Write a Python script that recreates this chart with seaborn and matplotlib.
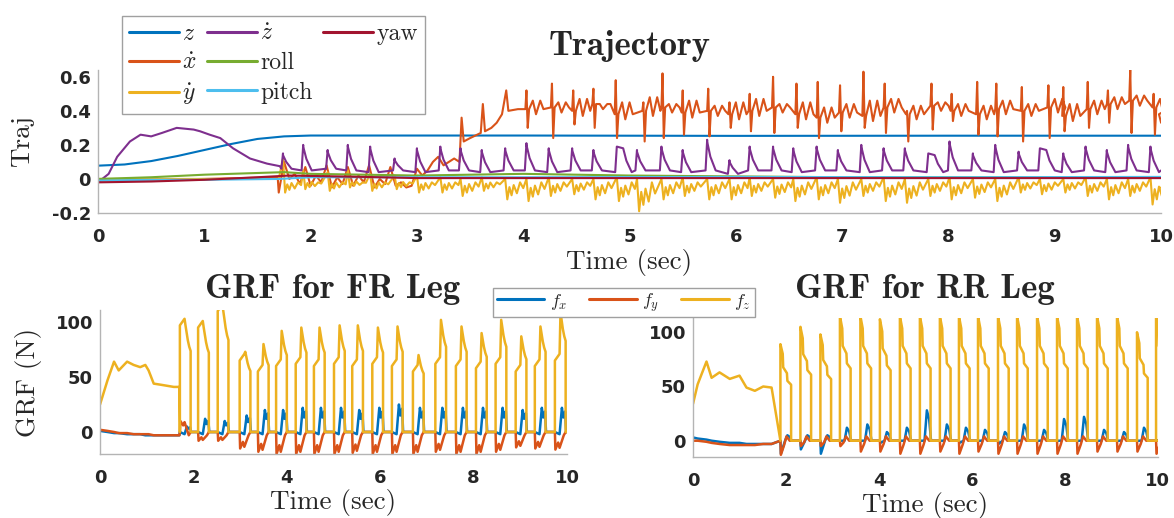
import numpy as np
import pandas as pd
import matplotlib
matplotlib.use("Agg")
import matplotlib.pyplot as plt
import seaborn as sns
from matplotlib.lines import Line2D

sns.set_style("white")
plt.rcParams["mathtext.fontset"] = "cm"
plt.rcParams["axes.unicode_minus"] = False

# ---------------- colours (MATLAB default order) ----------------
C_BLUE, C_ORANGE, C_YELLOW, C_PURPLE = "#0072BD", "#D95319", "#EDB120", "#7E2F8E"
C_GREEN, C_LBLUE, C_RED = "#77AC30", "#4DBEEE", "#A2142F"

# ---------------- Trajectory data ----------------
z_t = [0, 0.25, 0.5, 0.75, 1.0, 1.25, 1.5, 1.75, 2.0, 4.0, 6.0, 8.0, 10.0]
z_v = [0.078, 0.085, 0.105, 0.135, 0.17, 0.205, 0.235, 0.25, 0.255, 0.255, 0.253, 0.254, 0.254]

# xdot: quiet start, noisy phase (samples every 0.05 s from 1.70 s), ramp, then gait cycles
xd_pre_t = [0, 1.0, 1.69]
xd_pre_v = [-0.01, 0.0, 0.01]
xd_noise_v = [-0.08, 0.10, 0.0, 0.03, -0.03, 0.07, -0.04, 0.02, -0.02, 0.08, -0.05, 0.01,
              -0.03, 0.07, -0.04, 0.02, -0.02, 0.08, -0.05, 0.0, -0.03, 0.07, -0.04, -0.02,
              -0.05, -0.04, 0.06, 0.02, 0.05, 0.10, 0.13, 0.08, 0.10, 0.12, 0.10]
xd_ramp_t = [3.42, 3.44, 3.50, 3.60, 3.62, 3.64, 3.70, 3.75, 3.80, 3.84, 3.86, 3.95]
xd_ramp_v = [0.36, 0.22, 0.24, 0.27, 0.44, 0.28, 0.30, 0.33, 0.38, 0.52, 0.40, 0.41]
xd_cyc_t = [4.03, 4.27, 4.47, 4.66, 4.87, 5.13, 5.31, 5.50, 5.74, 5.94, 6.13, 6.35, 6.57, 6.77, 6.98,
            7.20, 7.40, 7.61, 7.84, 8.03, 8.27, 8.45, 8.69, 8.94, 9.08, 9.31, 9.50, 9.71, 9.93]
xd_up = [0.52, 0.56, 0.52, 0.53, 0.58, 0.45, 0.62, 0.52, 0.53, 0.45, 0.50, 0.60, 0.56, 0.57, 0.55,
         0.63, 0.56, 0.40, 0.56, 0.50, 0.57, 0.56, 0.54, 0.55, 0.54, 0.57, 0.52, 0.64, 0.50]
xd_dn = [0.30, 0.24, 0.32, 0.30, 0.24, 0.22, 0.24, 0.26, 0.25, 0.30, 0.28, 0.27, 0.30, 0.24, 0.28,
         0.30, 0.27, 0.22, 0.29, 0.34, 0.26, 0.25, 0.22, 0.24, 0.28, 0.30, 0.33, 0.27, 0.26]
xd_base = [0.41, 0.42, 0.40, 0.44, 0.38, 0.40, 0.42, 0.39, 0.40, 0.38, 0.40, 0.42, 0.38, 0.36, 0.39,
           0.37, 0.42, 0.38, 0.43, 0.40, 0.38, 0.41, 0.40, 0.42, 0.37, 0.41, 0.44, 0.46, 0.42]
xd_mid = [0.46, 0.45, 0.47, 0.44, 0.45, 0.48, 0.44, 0.46, 0.43, 0.45, 0.47, 0.44, 0.45, 0.42, 0.44,
          0.46, 0.47, 0.43, 0.45, 0.44, 0.43, 0.46, 0.44, 0.47, 0.44, 0.46, 0.48, 0.49, 0.47]

# zdot: smooth hump then gait spikes
zd_pre_t = [0, 0.1, 0.18, 0.3, 0.4, 0.5, 0.6, 0.74, 0.9, 0.96, 1.05, 1.15, 1.27, 1.43, 1.59, 1.71]
zd_pre_v = [-0.02, 0.03, 0.13, 0.22, 0.26, 0.25, 0.27, 0.30, 0.29, 0.28, 0.26, 0.24, 0.18, 0.12, 0.09, 0.075]
zd_t = [1.74, 1.93, 2.16, 2.35, 2.56, 2.79, 3.00, 3.22, 3.41, 3.61, 3.83, 4.03, 4.24, 4.46, 4.66,
        4.88, 5.07, 5.30, 5.50, 5.73, 5.94, 6.13, 6.35, 6.54, 6.76, 6.96, 7.18, 7.39, 7.59, 7.81,
        8.01, 8.23, 8.44, 8.66, 8.86, 9.08, 9.29, 9.49, 9.69, 9.90]
zd_pk = [0.15, 0.20, 0.17, 0.20, 0.19, 0.12, 0.18, 0.19, 0.18, 0.17, 0.18, 0.21, 0.18, 0.18, 0.17,
         0.19, 0.17, 0.19, 0.17, 0.23, 0.11, 0.19, 0.19, 0.18, 0.19, 0.17, 0.20, 0.18, 0.18, 0.15,
         0.22, 0.15, 0.20, 0.16, 0.18, 0.15, 0.19, 0.17, 0.20, 0.19]
zd_base = [0.06, 0.05, 0.06, 0.05, 0.04, 0.05, 0.04, 0.05, 0.05, 0.04, 0.05, 0.05, 0.04, 0.05, 0.05,
           0.04, 0.05, 0.05, 0.04, 0.05, 0.03, 0.05, 0.05, 0.04, 0.05, 0.05, 0.04, 0.05, 0.05, 0.04,
           0.05, 0.05, 0.04, 0.05, 0.05, 0.04, 0.05, 0.04, 0.05, 0.04]
zd_hold = [0, 0, 0, 0, 0, 0, 0, 0, 0, 0, 0, 0, 0, 0, 0, 0.06, 0, 0, 0, 0, 0, 0, 0, 0, 0, 0, 0, 0,
           0, 0.06, 0, 0, 0, 0, 0.06, 0, 0, 0, 0, 0]

# ydot: dips per gait cycle (same cycle times as zdot)
yd_hi = [0.12, 0.05, 0.04, 0.05, 0.03, 0.02, 0.02, 0.01, 0.0, 0.01, 0.0, 0.0, 0.01, 0.0, 0.0,
         0.01, 0.0, 0.0, 0.01, 0.0, 0.0, 0.01, 0.0, 0.0, 0.01, 0.0, 0.0, 0.01, 0.0, 0.0,
         0.01, 0.0, 0.0, 0.01, 0.0, 0.0, 0.01, 0.0, 0.0, 0.01]
yd_lo = [-0.08, -0.06, -0.07, -0.05, -0.07, -0.06, -0.08, -0.08, -0.10, -0.07, -0.12, -0.13, -0.10,
         -0.09, -0.12, -0.13, -0.19, -0.12, -0.10, -0.12, -0.12, -0.10, -0.11, -0.13, -0.12, -0.14,
         -0.10, -0.13, -0.14, -0.10, -0.12, -0.11, -0.13, -0.08, -0.09, -0.08, -0.10, -0.12, -0.10, -0.15]

roll_t = [0, 0.5, 1.0, 1.5, 1.75, 2.0, 3.0, 4.0, 5.0, 6.0, 7.0, 8.0, 9.0, 10.0]
roll_v = [0.0, 0.01, 0.025, 0.035, 0.04, 0.03, 0.02, 0.03, 0.02, 0.015, 0.01, 0.01, 0.01, 0.01]
pitch_t = [0, 0.5, 1.0, 1.7, 2.0, 4.0, 6.0, 8.0, 10.0]
pitch_v = [-0.01, -0.005, -0.005, 0.0, 0.01, 0.01, 0.012, 0.01, 0.012]
yaw_t = [0, 0.5, 1.0, 1.5, 1.8, 2.5, 3.0, 4.0, 6.0, 8.0, 10.0]
yaw_v = [-0.02, -0.015, -0.005, 0.01, 0.02, 0.012, 0.005, 0.005, 0.005, 0.005, 0.005]

# ---------------- GRF data ----------------
fr_pre_t = [0, 0.16, 0.30, 0.40, 0.58, 0.72, 0.86, 0.97, 1.04, 1.15, 1.30, 1.58, 1.70]
fr_pre_fz = [25, 47, 64, 56, 64, 61, 59, 61, 56, 44, 43, 41, 41]
fr_pre_fx = [1, 0, -1, -1, -2, -2, -2, -3, -3, -3, -3, -3, -3]
fr_pre_fy = [2, 1, 0, -1, -1, -2, -2, -2, -2, -3, -3, -3, -3]
fr_on = [1.71, 2.10, 2.52, 2.99, 3.38, 3.77, 4.19, 4.58, 5.01, 5.40, 5.83, 6.25, 6.70, 7.18,
         7.62, 8.05, 8.47, 8.90, 9.31, 9.74]
fr_pk = [97, 95, 110, 73, 80, 92, 95, 95, 97, 97, 95, 96, 70, 102, 96, 90, 102, 87, 96, 109]
fr_lv = [97, 95, 110, 65, 55, 60, 62, 60, 62, 60, 62, 60, 55, 62, 60, 58, 62, 55, 60, 65]
fr_fx = [5, 12, 10, 15, 20, 20, 22, 22, 22, 20, 22, 25, 22, 22, 22, 22, 22, 20, 22, 22]
fr_fy = [10, -8, -8, -15, -18, -20, -20, -20, -20, -19, -20, -20, -20, -18, -20, -20, -18, -14, -15, -16]

rr_pre_t = [0, 0.1, 0.29, 0.40, 0.57, 0.79, 1.00, 1.15, 1.33, 1.51, 1.69]
rr_pre_fz = [34, 52, 73, 58, 63, 57, 60, 49, 46, 50, 49]
rr_pre_fx = [3, 2, 1, 0, -1, -2, -2, -3, -3, -3, -3]
rr_pre_fy = [0, 0, -1, -2, -3, -4, -4, -4, -4, -3, -3]
rr_on = [1.88, 2.31, 2.74, 3.16, 3.60, 4.02, 4.45, 4.88, 5.31, 5.72, 6.13, 6.56, 6.97, 7.40,
         7.83, 8.26, 8.69, 9.12, 9.55, 9.96]
rr_pk = [89, 105, 98, 115, 115, 112, 115, 115, 115, 115, 115, 115, 115, 115, 115, 115, 115, 115, 100, 115]
rr_fx_lo = [-12, -8, -12, 0, 0, -2, 0, 0, 0, -2, 0, -3, 0, 0, 0, 0, 0, 0, 0, 0]
rr_fx_hi = [5, 5, 5, 12, 15, 8, 12, 28, 15, 12, 10, 8, 15, 10, 20, 22, 10, 8, 12, 12]
rr_fy_lo = [-13, -5, -5, -5, -10, -10, -12, -12, -10, -12, -10, -12, -12, -12, -12, -12, -10, -10, -10, -12]


# ---------------- assemble polylines from the read values ----------------
def series(name, ts, vs):
    return pd.DataFrame({"t": ts, "v": vs, "s": name})


def build_xd():
    ts = list(xd_pre_t) + [1.70 + 0.05 * k for k in range(len(xd_noise_v))] + list(xd_ramp_t)
    vs = list(xd_pre_v) + list(xd_noise_v) + list(xd_ramp_v)
    for t0, u, d, b, m in zip(xd_cyc_t, xd_up, xd_dn, xd_base, xd_mid):
        ts += [t0 - 0.01, t0, t0 + 0.012, t0 + 0.025, t0 + 0.06, t0 + 0.09, t0 + 0.13, t0 + 0.16]
        vs += [b, u, d, b, m, b - 0.03, m, b]
    ts += [9.98, 10.0]
    vs += [0.38, 0.33]
    return ts, vs


def build_zd():
    ts, vs = list(zd_pre_t), list(zd_pre_v)
    for t0, p, b, h in zip(zd_t, zd_pk, zd_base, zd_hold):
        ts += [t0 - 0.015, t0, t0 + h, t0 + h + 0.03, t0 + h + 0.08]
        vs += [b, p, p - 0.01, b + 0.45 * (p - b), b]
    ts += [10.0]
    vs += [0.05]
    return ts, vs


def build_yd():
    ts, vs = [0, 1.0, 1.70], [0.0, 0.0, 0.0]
    for t0, hi, lo in zip(zd_t, yd_hi, yd_lo):
        ts += [t0, t0 + 0.02, t0 + 0.04, t0 + 0.06, t0 + 0.08, t0 + 0.11, t0 + 0.14, t0 + 0.17]
        vs += [hi, lo, lo * 0.4, lo * 0.8, lo * 0.3, lo * 0.7, -0.02, lo * 0.45]
    ts += [10.0]
    vs += [-0.05]
    return ts, vs


def build_grf(pre_t, pre_v, on, kind, a=None, b=None):
    ts, vs = list(pre_t), list(pre_v)
    for i, t0 in enumerate(on):
        if kind == "fr_fz":
            pk, lv = a[i], b[i]
            ts += [t0, t0, t0 + 0.10, t0 + 0.12, t0 + 0.17, t0 + 0.20, t0 + 0.23, t0 + 0.23, t0 + 0.26]
            vs += [0, lv, lv + 6, pk, 0.86 * pk, 0.8 * pk, 0.76 * pk, 0, 0]
        elif kind == "rr_fz":
            pk = a[i]
            ts += [t0, t0, t0 + 0.05, t0 + 0.06, t0 + 0.14, t0 + 0.15, t0 + 0.23, t0 + 0.23, t0 + 0.26]
            vs += [0, pk, 0.9 * pk, 0.76 * pk, 0.7 * pk, 0.62 * pk, 0.58 * pk, 0, 0]
        elif kind == "fr_fx":
            hi = a[i]
            ts += [t0, t0 + 0.10, t0 + 0.15, t0 + 0.18, t0 + 0.22, t0 + 0.24]
            vs += [0, -2, hi, hi * 0.6, hi * 0.85, 0]
        elif kind == "fr_fy":
            lo = a[i]
            ts += [t0, t0 + 0.01, t0 + 0.07, t0 + 0.10, t0 + 0.19, t0 + 0.23, t0 + 0.25]
            vs += [0, lo, lo * 0.6, lo * 0.9, -3, 0, 0]
        elif kind == "rr_fx":
            lo, hi = a[i], b[i]
            ts += [t0, t0 + 0.01, t0 + 0.10, t0 + 0.15, t0 + 0.20, t0 + 0.24]
            vs += [0, lo, 0, hi, hi * 0.7, 0]
        elif kind == "rr_fy":
            lo = a[i]
            ts += [t0, t0 + 0.01, t0 + 0.08, t0 + 0.13, t0 + 0.20, t0 + 0.24]
            vs += [0, lo, lo * 0.3, 4, 0, 0]
    ts += [10.0]
    vs += [0]
    return ts, vs


xd_tt, xd_vv = build_xd()
zd_tt, zd_vv = build_zd()
yd_tt, yd_vv = build_yd()

traj = [
    ("$z$", z_t, z_v, C_BLUE),
    (r"$\dot{x}$", xd_tt, xd_vv, C_ORANGE),
    (r"$\dot{y}$", yd_tt, yd_vv, C_YELLOW),
    (r"$\dot{z}$", zd_tt, zd_vv, C_PURPLE),
    ("roll", roll_t, roll_v, C_GREEN),
    ("pitch", pitch_t, pitch_v, C_LBLUE),
    ("yaw", yaw_t, yaw_v, C_RED),
]

fr = [
    ("$f_x$", *build_grf(fr_pre_t, fr_pre_fx, fr_on, "fr_fx", fr_fx), C_BLUE),
    ("$f_y$", *build_grf(fr_pre_t, fr_pre_fy, fr_on, "fr_fy", fr_fy), C_ORANGE),
    ("$f_z$", *build_grf(fr_pre_t, fr_pre_fz, fr_on, "fr_fz", fr_pk, fr_lv), C_YELLOW),
]
rr = [
    ("$f_x$", *build_grf(rr_pre_t, rr_pre_fx, rr_on, "rr_fx", rr_fx_lo, rr_fx_hi), C_BLUE),
    ("$f_y$", *build_grf(rr_pre_t, rr_pre_fy, rr_on, "rr_fy", rr_fy_lo), C_ORANGE),
    ("$f_z$", *build_grf(rr_pre_t, rr_pre_fz, rr_on, "rr_fz", rr_pk), C_YELLOW),
]

# ---------------- figure ----------------
fig = plt.figure(figsize=(11.74, 5.18), dpi=100)
ax_top = fig.add_axes([0.0835, 0.5888, 0.9055, 0.2761])
ax_fr = fig.add_axes([0.0852, 0.1236, 0.3978, 0.278])
ax_rr = fig.add_axes([0.5903, 0.1178, 0.396, 0.268])

SPINE = "#b4b4b4"
TICKFONT = dict(family="DejaVu Sans", weight="bold", size=13)
LABELFONT = dict(family="cmr10", size=19.5)


def style(ax):
    for s in ("top", "right"):
        ax.spines[s].set_visible(False)
    for s in ("left", "bottom"):
        ax.spines[s].set_color(SPINE)
        ax.spines[s].set_linewidth(1.0)
    ax.tick_params(direction="in", length=6, width=0.8, color=SPINE)
    ax.tick_params(axis="x", pad=11)
    ax.tick_params(axis="y", pad=5)
    for lab in ax.get_xticklabels() + ax.get_yticklabels():
        lab.set_fontproperties(matplotlib.font_manager.FontProperties(**TICKFONT))
    ax.set_facecolor("white")


def draw(ax, items, lw):
    for name, ts, vs, col in items:
        df = series(name, ts, vs)
        sns.lineplot(data=df, x="t", y="v", ax=ax, color=col, lw=lw,
                     estimator=None, sort=False, legend=False)
    ax.set_xlabel("")
    ax.set_ylabel("")


draw(ax_top, traj, 1.5)
ax_top.set_xlim(0, 10)
ax_top.set_ylim(-0.2, 0.64)
ax_top.set_xticks(range(0, 11))
ax_top.set_yticks([-0.2, 0, 0.2, 0.4, 0.6])
ax_top.set_yticklabels(["-0.2", "0", "0.2", "0.4", "0.6"])
ax_top.set_xlabel("Time (sec)", **LABELFONT, labelpad=2)
ax_top.set_ylabel("Traj", **LABELFONT, labelpad=13)
style(ax_top)

for ax, items, ylim in ((ax_fr, fr, (-20, 111)), (ax_rr, rr, (-15, 113))):
    draw(ax, items, 1.8)
    ax.set_xlim(0, 10)
    ax.set_ylim(*ylim)
    ax.set_xticks([0, 2, 4, 6, 8, 10])
    ax.set_yticks([0, 50, 100])
    ax.set_xlabel("Time (sec)", **LABELFONT, labelpad=1)
    style(ax)
ax_fr.set_ylabel("GRF (N)", **LABELFONT, labelpad=10)

fig.text(630 / 1174, 1 - 55 / 518, "Trajectory", family="cmb10", size=25,
         ha="center", va="baseline")
fig.text(333 / 1174, 1 - 298 / 518, "GRF for FR Leg", family="cmb10", size=25,
         ha="center", va="baseline")
fig.text(925 / 1174, 1 - 298 / 518, "GRF for RR Leg", family="cmb10", size=25,
         ha="center", va="baseline")

leg_font = matplotlib.font_manager.FontProperties(family="cmr10", size=17)
h1 = [Line2D([], [], color=c, lw=2.2) for _, _, _, c in traj]
l1 = [n for n, *_ in traj]
blank = Line2D([], [], color="none")
h1 = h1 + [blank, blank]
l1 = l1 + ["", ""]
fig.legend(h1, l1, loc="upper left",
           bbox_to_anchor=(122 / 1174, 1 - 16 / 518), ncol=3, prop=leg_font,
           frameon=True, fancybox=False, edgecolor="#a0a0a0", framealpha=1,
           handlelength=2.1, handletextpad=0.15, columnspacing=0.45,
           labelspacing=0.3, borderpad=0.3, borderaxespad=0)

leg_font2 = matplotlib.font_manager.FontProperties(family="cmr10", size=13)
h2 = [Line2D([], [], color=c, lw=2.2) for _, _, _, c in fr]
fig.legend(h2, [n for n, *_ in fr], loc="upper left",
           bbox_to_anchor=(493 / 1174, 1 - 288 / 518), ncol=3, prop=leg_font2,
           frameon=True, fancybox=False, edgecolor="#a0a0a0", framealpha=1,
           handlelength=2.65, handletextpad=0.3, columnspacing=1.2,
           borderpad=0.2, borderaxespad=0)

fig.savefig("out.png", dpi=100)
